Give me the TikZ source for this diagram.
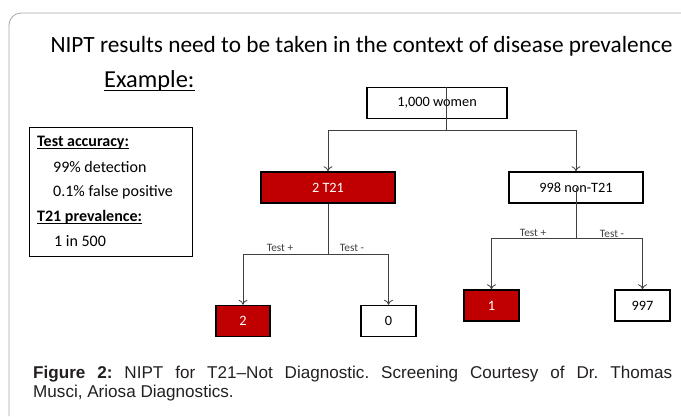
\documentclass[tikz,border=0pt]{standalone}
\usepackage{fontspec}
\setmainfont{Carlito}
\newfontfamily\captionfont[Ligatures=TeX]{Liberation Sans}
\usetikzlibrary{arrows.meta}

\definecolor{hitred}{HTML}{C00000}
\definecolor{linkgrey}{HTML}{404040}
\definecolor{framegrey}{HTML}{A6A6A6}
\definecolor{captiongrey}{HTML}{231F20}

% underline: #1 depth, #2 thickness, #3 text
\newcommand\ulbar[3]{\setbox0\hbox{#3}\rlap{\rule[-#1]{\wd0}{#2}}\box0}

\begin{document}
\begin{tikzpicture} [
                x=1pt, y=-1pt,
                box/.style={draw, line width=1.5pt, inner sep=0pt, minimum height=31pt,
                    font=\fontsize{14.3}{16}\selectfont},
                link/.style = {draw=linkgrey, line width=0.8pt},
                arrow/.style = {link, -{To[length=5pt, width=9pt]}},
                test/.style={anchor=base, inner sep=0pt, text=linkgrey, font=\fontsize{11.3}{13}\selectfont},
                info/.style={anchor=base west, inner sep=0pt, font=\fontsize{16}{18}\selectfont},
            ]
            \useasboundingbox (0,0) rectangle (681,416);
            \draw[framegrey, line width=0.8pt, rounded corners=12pt] (9,416) -- (9,13) -- (681,13);
            % heading
            \node[anchor=base, font=\fontsize{23.3}{26}\selectfont] (title) at (361.5,52)
                {NIPT results need to be taken in the context of disease prevalence};
            \node[anchor=base west, inner sep=0pt, font=\fontsize{24.4}{27}\selectfont] (example) at (104,87)
                {\ulbar{4pt}{1.4pt}{Example:}};
            % facts box
            \node[draw, line width=1pt, anchor=north west, minimum width=163pt, minimum height=129pt] (facts) at (29,127) {};
            \foreach \x/\y/\name/\txt in {
                    37/146/accuracy/{\textbf{\ulbar{2.5pt}{1pt}{Test accuracy:}}},
                    53/172/detection/{99\% detection},
                    53/196/falsepos/{0.1\% false positive},
                    37/221/prevalence/{\textbf{\ulbar{2.5pt}{1pt}{T21 prevalence:}}},
                    54/246/rate/{1 in 500}}
                \node[info] (\name) at (\x,\y) {\txt};
            % tree
            \foreach \pos/\name/\w/\fillc/\textc/\txt in {
                    {(437,103)/women/140/white/black/{1,000 women}},
                    {(328,187.5)/t21/134/hitred/white/{2 T21}},
                    {(576,187.5)/nont21/134/white/black/{998 non-T21}},
                    {(243,321)/truepos/54/hitred/white/{2}},
                    {(388.5,321)/falseneg/55/white/black/{0}},
                    {(491.5,305.5)/falsepos/55/hitred/white/{1}},
                    {(642.5,305.5)/trueneg/55/white/black/{997}}}
                \node[box, fill=\fillc, text=\textc, minimum width=\w pt] (\name) at \pos {\txt};
            \coordinate (wsplit) at (446,130);
            \coordinate (tsplit) at (328,254);
            \coordinate (nsplit) at (576,238);
            \path[link] ([xshift=9pt]women.north) -- (wsplit);
            \path[link] (t21.south) -- (tsplit);
            \path[link] (nont21.center) -- (nsplit);
            \foreach \source/ \dest in {
                    wsplit/t21,wsplit/nont21,tsplit/truepos,tsplit/falseneg,nsplit/falsepos,nsplit/trueneg}
                \path[arrow] (\source) -| (\dest.north);
            \foreach \pos/\name/\txt in {
                    {(280,251)/tplus/{Test +}}, {(352,251)/tminus/{Test -}},
                    {(533,236)/nplus/{Test +}}, {(612,237)/nminus/{Test -}}}
                \node[test] (\name) at \pos {\txt};
            % caption
            \node[anchor=north west, inner sep=0pt, text width=639pt, align=justify, text=captiongrey,
                font=\captionfont\fontsize{17.1}{19}\selectfont\frenchspacing] (caption) at (33,366)
                {\textbf{Figure 2:} NIPT for T21\textendash Not Diagnostic. Screening Courtesy of Dr. Thomas\linebreak
                Musci, Ariosa Diagnostics.};
        \end{tikzpicture}
\end{document}
